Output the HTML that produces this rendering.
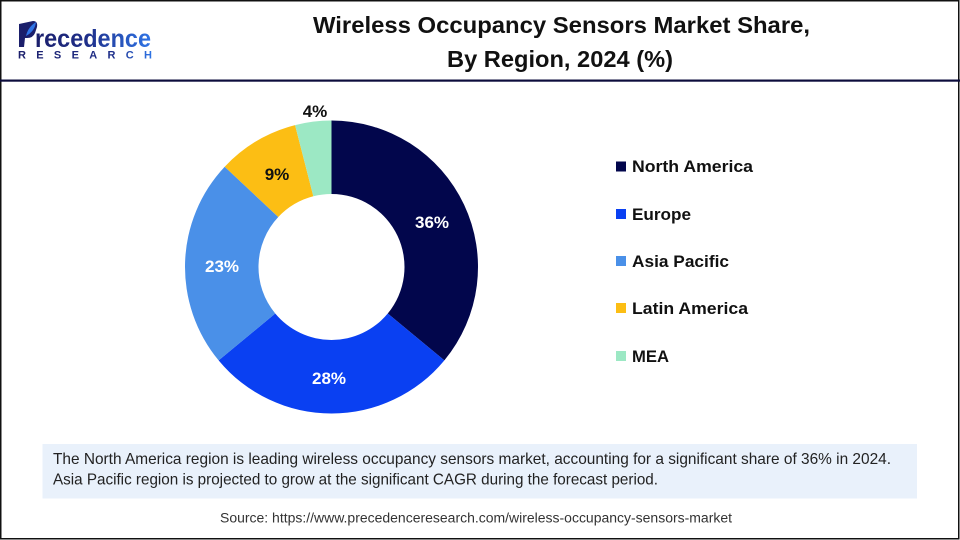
<!DOCTYPE html>
<html>
<head>
<meta charset="utf-8">
<style>
  html, body { margin:0; padding:0; background:#fff; }
  body { width:960px; height:540px; overflow:hidden; }
  svg { display:block; }
  text { font-family: "Liberation Sans", "DejaVu Sans", sans-serif; }
</style>
</head>
<body>
<svg width="960" height="540" viewBox="0 0 960 540" xmlns="http://www.w3.org/2000/svg">
  <defs>
    <linearGradient id="lg" x1="0" y1="0" x2="1" y2="0">
      <stop offset="0" stop-color="#1b1f6b"/>
      <stop offset="0.45" stop-color="#1f2f8a"/>
      <stop offset="1" stop-color="#2f74e6"/>
    </linearGradient>
    <linearGradient id="lg2" x1="0" y1="0" x2="1" y2="0">
      <stop offset="0" stop-color="#1b1f6b"/>
      <stop offset="0.7" stop-color="#1f2f8a"/>
      <stop offset="1" stop-color="#2f74e6"/>
    </linearGradient>
  </defs>
  <rect x="0" y="0" width="960" height="540" fill="#fff"/>
  <!-- outer border -->
  <rect x="0.75" y="0.75" width="958" height="538" fill="none" stroke="#111" stroke-width="1.5"/>
  <!-- header separator -->
  <rect x="0" y="79.5" width="960" height="2.2" fill="#0c0c3c"/>

  <!-- Logo -->
  <g>
    <path d="M19 24 L33 21 Q38 21 37 27 L35 33 Q33 38 27 38 L25 38 L24 47 L19 47 Z" fill="#1b1f6b"/>
    <path d="M26 36 Q28 27 36 22 Q35 31 26 36 Z" fill="#2f74e6"/>
    <text x="35" y="47" font-size="25" font-weight="bold" fill="url(#lg)" textLength="116" lengthAdjust="spacingAndGlyphs">recedence</text>
    <text x="18" y="58.5" font-size="11" font-weight="bold" fill="url(#lg2)" textLength="134" lengthAdjust="spacing">RESEARCH</text>
  </g>

  <!-- Title -->
  <text x="561.5" y="33" font-size="23" font-weight="bold" fill="#111" text-anchor="middle" textLength="497" lengthAdjust="spacingAndGlyphs">Wireless Occupancy Sensors Market Share,</text>
  <text x="560" y="67" font-size="23" font-weight="bold" fill="#111" text-anchor="middle" textLength="226" lengthAdjust="spacingAndGlyphs">By Region, 2024 (%)</text>

  <!-- Donut -->
  <g>
    <path d="M331.5 120.5 A146.5 146.5 0 0 1 444.38 360.38 L387.75 313.53 A73 73 0 0 0 331.5 194 Z" fill="#02064c"/>
    <path d="M444.38 360.38 A146.5 146.5 0 0 1 218.62 360.38 L275.25 313.53 A73 73 0 0 0 387.75 313.53 Z" fill="#0a40f2"/>
    <path d="M218.62 360.38 A146.5 146.5 0 0 1 224.70 166.72 L278.28 217.03 A73 73 0 0 0 275.25 313.53 Z" fill="#4a90e8"/>
    <path d="M224.70 166.72 A146.5 146.5 0 0 1 295.07 125.10 L313.34 196.29 A73 73 0 0 0 278.28 217.03 Z" fill="#fcbe14"/>
    <path d="M295.07 125.10 A146.5 146.5 0 0 1 331.5 120.5 L331.5 194 A73 73 0 0 0 313.34 196.29 Z" fill="#9ce8c4"/>
  </g>
  <g font-size="17" font-weight="bold" text-anchor="middle">
    <text x="432" y="228" fill="#fff">36%</text>
    <text x="329" y="384" fill="#fff">28%</text>
    <text x="222" y="272" fill="#fff">23%</text>
    <text x="277" y="180" fill="#111">9%</text>
    <text x="315" y="117" fill="#111">4%</text>
  </g>

  <!-- Legend -->
  <g font-size="17" font-weight="bold" fill="#111">
    <rect x="616" y="161.5" width="10" height="10" fill="#02064c"/>
    <text x="632" y="172" textLength="121" lengthAdjust="spacingAndGlyphs">North America</text>
    <rect x="616" y="209" width="10" height="10" fill="#0a40f2"/>
    <text x="632" y="220" textLength="59" lengthAdjust="spacingAndGlyphs">Europe</text>
    <rect x="616" y="256" width="10" height="10" fill="#4a90e8"/>
    <text x="632" y="267" textLength="97" lengthAdjust="spacingAndGlyphs">Asia Pacific</text>
    <rect x="616" y="303" width="10" height="10" fill="#fcbe14"/>
    <text x="632" y="314" textLength="116" lengthAdjust="spacingAndGlyphs">Latin America</text>
    <rect x="616" y="351" width="10" height="10" fill="#9ce8c4"/>
    <text x="632" y="362" textLength="37" lengthAdjust="spacingAndGlyphs">MEA</text>
  </g>

  <!-- Info box -->
  <rect x="42.5" y="444" width="874.5" height="54.5" fill="#e9f1fb"/>
  <text x="53" y="464" font-size="16" fill="#222" textLength="838" lengthAdjust="spacingAndGlyphs">The North America region is leading wireless occupancy sensors market, accounting for a significant share of 36% in 2024.</text>
  <text x="53" y="484.5" font-size="16" fill="#222" textLength="605" lengthAdjust="spacingAndGlyphs">Asia Pacific region is projected to grow at the significant CAGR during the forecast period.</text>

  <!-- Source -->
  <text x="220" y="522.5" font-size="13.5" fill="#333" textLength="512" lengthAdjust="spacingAndGlyphs">Source: https://www.precedenceresearch.com/wireless-occupancy-sensors-market</text>
</svg>
</body>
</html>
